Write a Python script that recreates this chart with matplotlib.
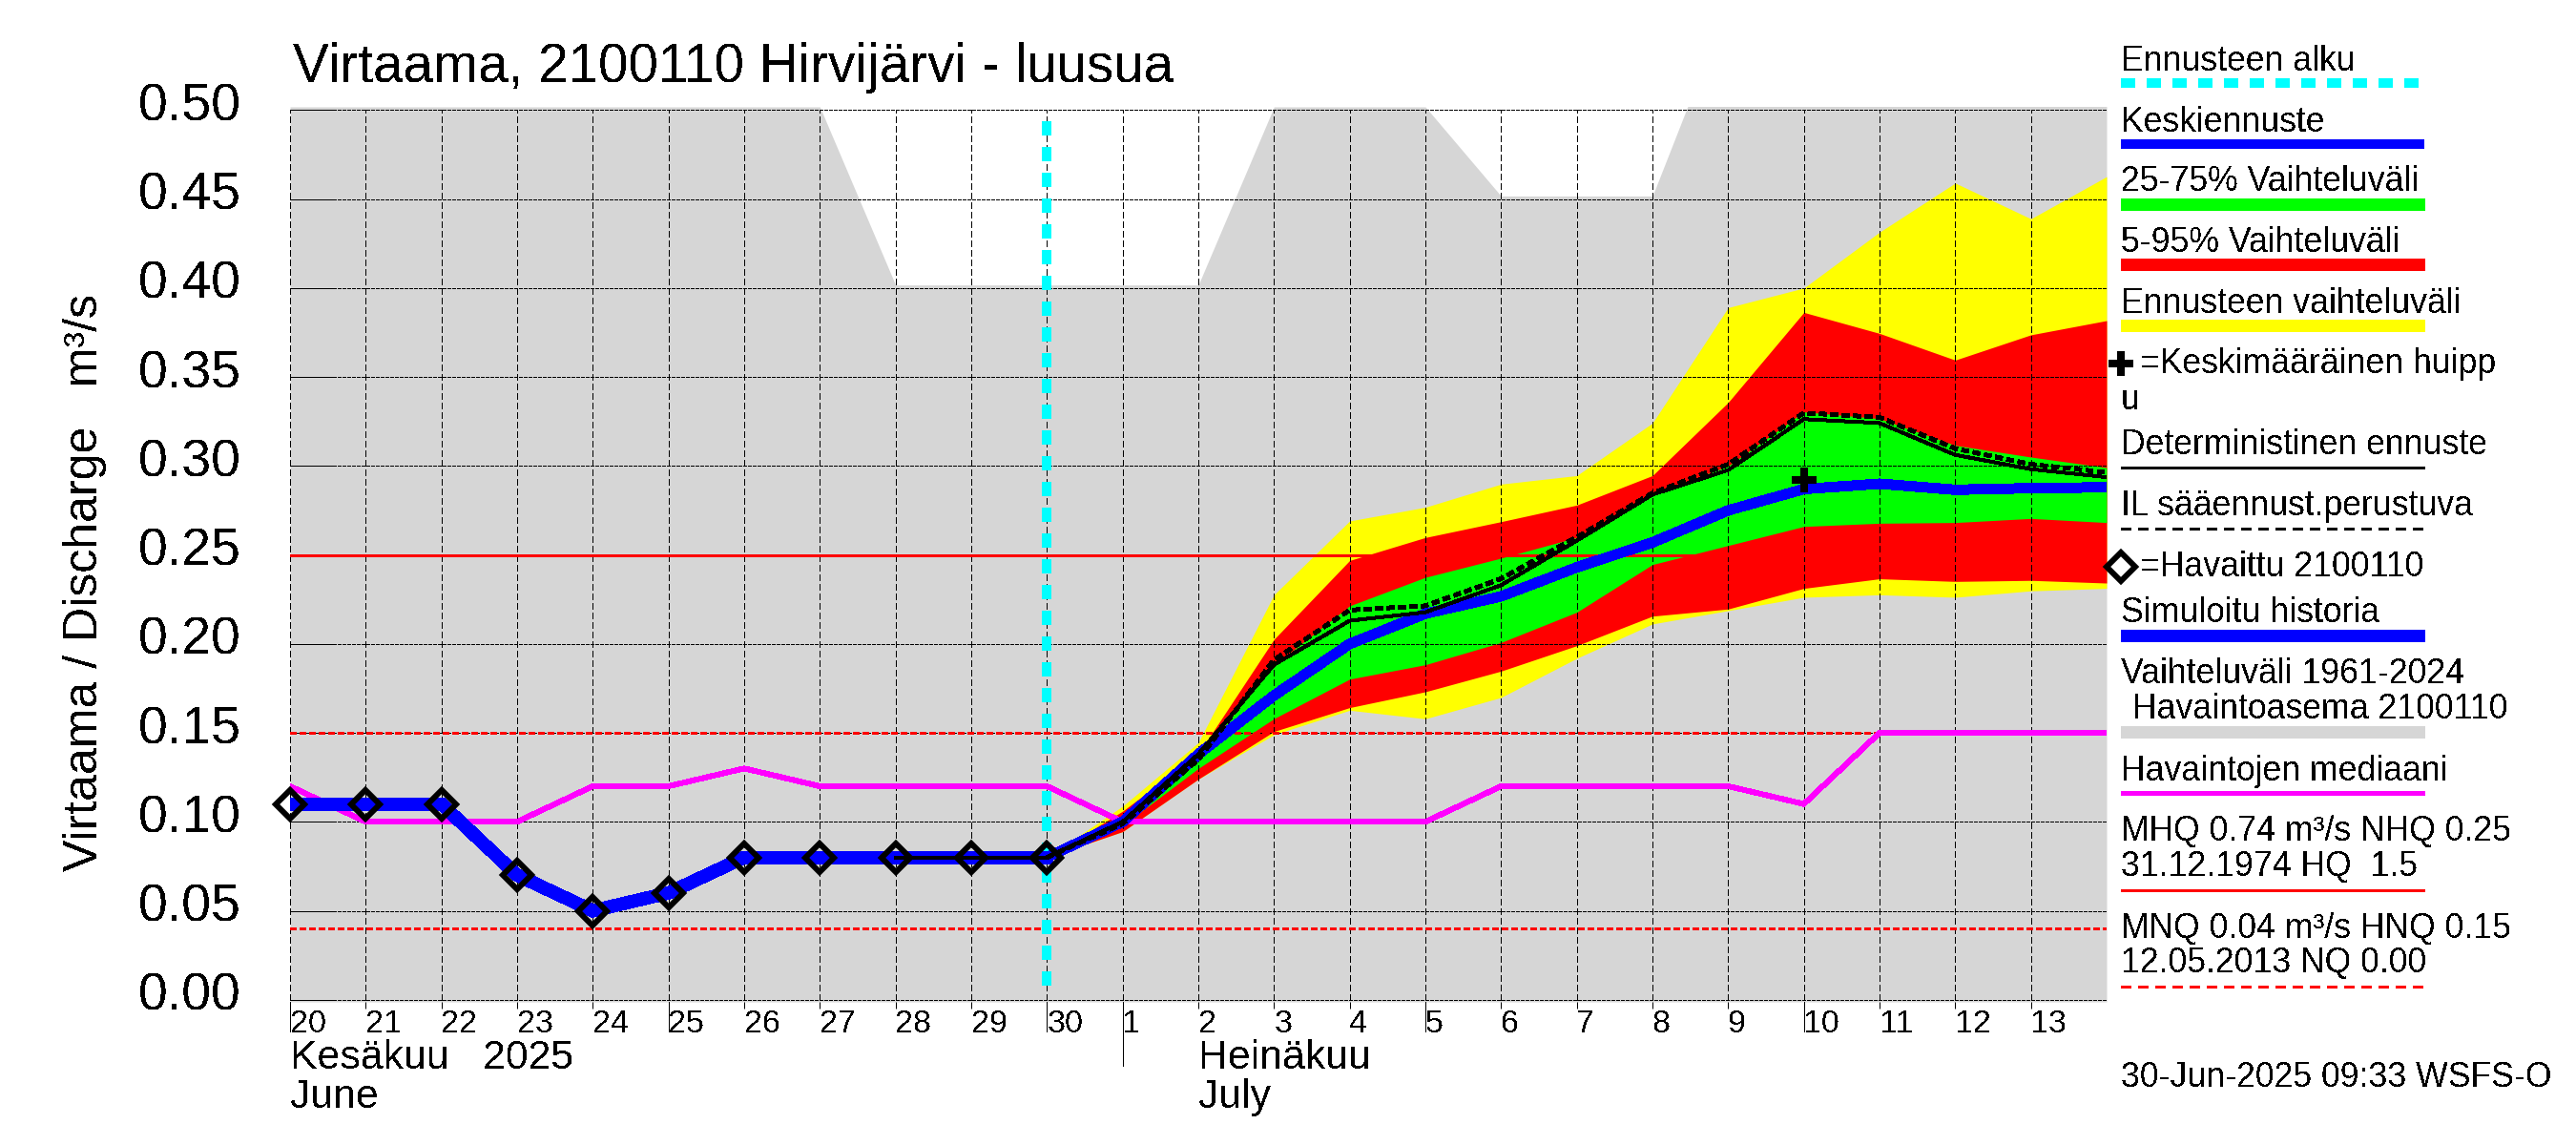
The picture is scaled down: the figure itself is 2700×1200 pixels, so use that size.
#!/usr/bin/env python3
# file: plot.py
# Virtaama forecast chart for 2100110 Hirvijarvi - luusua

import matplotlib
matplotlib.use('Agg')
import matplotlib.pyplot as plt
from matplotlib.transforms import ScaledTranslation

plt.rcParams['font.family'] = ['Liberation Sans', 'DejaVu Sans']
plt.rcParams['text.antialiased'] = False
plt.rcParams['lines.antialiased'] = False
plt.rcParams['patch.antialiased'] = False

# day index 0 = 20 June, 10 = 30 June, 11 = 1 July
all_days = list(range(25))
day_labels = ['20', '21', '22', '23', '24', '25', '26', '27', '28', '29', '30',
              '1', '2', '3', '4', '5', '6', '7', '8', '9', '10', '11', '12', '13']
y_ticks = [0.00, 0.05, 0.10, 0.15, 0.20, 0.25, 0.30, 0.35, 0.40, 0.45, 0.50]

# highest observed 1961-2024, runs off the top of the plot
gray_top = [0.5018, 0.5018, 0.5018, 0.5018, 0.5018, 0.5018, 0.5018, 0.5018,
            0.4017, 0.4017, 0.4017, 0.4017, 0.4017, 0.5018, 0.5018, 0.5018,
            0.4517, 0.4517, 0.4517, 0.56, 0.56, 0.56, 0.56, 0.56, 0.56]
median_q = [0.12, 0.10, 0.10, 0.10, 0.12, 0.12, 0.13, 0.12, 0.12, 0.12, 0.12,
            0.10, 0.10, 0.10, 0.10, 0.10, 0.12, 0.12, 0.12, 0.12, 0.11,
            0.15, 0.15, 0.15, 0.15]

hist_days = list(range(11))
observed = [0.11, 0.11, 0.11, 0.07, 0.05, 0.06, 0.08, 0.08, 0.08, 0.08, 0.08]

# forecast, days 10..24
fc_days = list(range(10, 25))
yellow_top = [0.08, 0.1088, 0.1445, 0.2276, 0.2691, 0.2768, 0.2898, 0.2946,
              0.3241, 0.389, 0.400, 0.4314, 0.459, 0.4389, 0.4626]
red_top = [0.08, 0.106, 0.1382, 0.2026, 0.2469, 0.2598, 0.2687, 0.278,
           0.2946, 0.3357, 0.3863, 0.3745, 0.3595, 0.3737, 0.3817]
green_top = [0.08, 0.102, 0.136, 0.188, 0.2214, 0.2374, 0.2482, 0.2598,
             0.284, 0.30, 0.3304, 0.3266, 0.3116, 0.305, 0.2991]
green_bot = [0.08, 0.098, 0.13, 0.158, 0.1802, 0.1883, 0.2008, 0.2178,
             0.2446, 0.2553, 0.266, 0.2678, 0.2682, 0.2705, 0.2682]
red_bot = [0.08, 0.0945, 0.124, 0.1508, 0.1642, 0.1731, 0.1847, 0.199,
           0.2156, 0.2196, 0.2312, 0.2366, 0.2351, 0.2357, 0.2342]
yellow_bot = [0.08, 0.0945, 0.124, 0.149, 0.1627, 0.1579, 0.1699, 0.1919,
              0.2112, 0.2187, 0.2262, 0.2276, 0.2262, 0.2298, 0.2312]
mean_fc = [0.08, 0.10, 0.138, 0.171, 0.20, 0.217, 0.2267, 0.243,
           0.257, 0.275, 0.287, 0.29, 0.2866, 0.2875, 0.288]
il_fc = [0.08, 0.099, 0.135, 0.191, 0.219, 0.2214, 0.2366, 0.26,
         0.2847, 0.3009, 0.3298, 0.3273, 0.3098, 0.3009, 0.2964]

# deterministic line starts two days earlier
det_days = list(range(8, 25))
det_fc = [0.08, 0.08, 0.08, 0.10, 0.138, 0.1883, 0.213, 0.2178, 0.233, 0.258,
          0.2839, 0.2977, 0.3263, 0.3241, 0.3062, 0.2982, 0.2937]

forecast_start = 10
peak_day = 20
peak_q = 0.292
nhq = 0.25
hnq = 0.15
mnq = 0.04

PX = 0.72  # one pixel in points at dpi 100

fig = plt.figure(figsize=(27, 12), dpi=100)
ax = fig.add_axes([304 / 2700, 1 - 1050 / 1200, 1904 / 2700, 938 / 1200])
ax.set_xlim(0, 24)
y_bottom, y_upper = -0.0012, 0.5018
ax.set_ylim(y_bottom, y_upper)
for s in ax.spines.values():
    s.set_visible(False)

# fills below the grid, lines above it
ax.set_axisbelow(False)
ax.fill_between(all_days, y_bottom, gray_top, color='#d6d6d6', lw=0, zorder=1)
ax.fill_between(fc_days, yellow_bot, yellow_top, color='#ffff00', lw=0, zorder=1.1)
ax.fill_between(fc_days, red_bot, red_top, color='#ff0000', lw=0, zorder=1.2)
ax.fill_between(fc_days, green_bot, green_top, color='#00ff00', lw=0, zorder=1.3)

ax.yaxis.grid(True, color='k', lw=PX, ls=(0, (4, 2)))
ax.vlines(all_days, 0, 0.5, colors='k', lw=PX, linestyles=[(0, (6, 3))], zorder=2.5)

ax.axhline(nhq, color='#ff0000', lw=3 * PX, zorder=3)
ax.axhline(hnq, color='#ff0000', lw=3 * PX, ls=(0, (2, 1)), zorder=3)
ax.axhline(mnq, color='#ff0000', lw=3 * PX, ls=(0, (2, 1)), zorder=3)
ax.plot(all_days, median_q, color='#ff00ff', lw=5 * PX, zorder=4)
ax.plot([forecast_start, forecast_start], [0.4937, 0.0026], color='#00ffff',
        lw=10 * PX, ls=(0, (1.5, 1.3)), zorder=4.5)
ax.plot(hist_days, observed, color='#0000ff', lw=13 * PX, zorder=5,
        solid_joinstyle='miter')
ax.plot(fc_days, mean_fc, color='#0000ff', lw=10 * PX, zorder=5)
ax.plot(det_days, det_fc, color='k', lw=3 * PX, zorder=6)
ax.plot(fc_days, il_fc, color='k', lw=3.5 * PX, ls=(0, (2, 1.4)), zorder=6)
ax.plot([peak_day], [peak_q], marker='+', ms=27 * PX, mew=8 * PX, color='k',
        ls='none', zorder=7)
ax.plot(hist_days, observed, marker='D', ms=21 * PX, mew=6 * PX, mfc='none',
        mec='k', ls='none', zorder=7, clip_on=False)

ax.set_xticks(all_days[:-1])
ax.set_xticklabels(day_labels, ha='left')
ax.tick_params(axis='x', direction='out', length=7 * PX, width=PX, pad=1,
               labelsize=24.5)
ax.set_yticks(y_ticks)
ax.set_yticklabels(['%.2f' % v for v in y_ticks])
ax.tick_params(axis='y', direction='in', length=47 * PX, width=PX, pad=51 * PX,
               labelsize=40)
up = ScaledTranslation(0, 9 / 100, fig.dpi_scale_trans)
for lab in ax.get_yticklabels():
    lab.set_transform(lab.get_transform() + up)

ax.set_title('Virtaama, 2100110 Hirvijärvi - luusua', loc='left', x=0.0015,
             pad=26 * PX, fontsize=40.8)

# overlay in pixel coordinates for the side legend and month labels
ov = fig.add_axes([0, 0, 1, 1], zorder=10)
ov.set_xlim(0, 2700)
ov.set_ylim(1200, 0)
ov.axis('off')

ov.text(102, 913, 'Virtaama / Discharge   m³/s', rotation=90, ha='left',
        va='baseline', rotation_mode='anchor', fontsize=36)

# long ticks on every fifth date and the month change
for x, end in [(304, 1081), (701, 1081), (1097, 1081), (1177, 1117), (1494, 1081),
               (1891, 1081)]:
    ov.plot([x, x], [1050, end], color='k', lw=PX)
ov.text(304, 1120, 'Kesäkuu   2025', fontsize=30.8)
ov.text(304, 1161, 'June', fontsize=30.8)
ov.text(1256, 1120, 'Heinäkuu', fontsize=30.8)
ov.text(1256, 1161, 'July', fontsize=30.8)

LEG_X0, LEG_X1 = 2223, 2541
FS = 25.7


def key_line(y, color, thick, ls='-'):
    ov.plot([LEG_X0, LEG_X1], [y, y], color=color, lw=thick * PX, ls=ls,
            solid_capstyle='butt', dash_capstyle='butt')


ov.text(LEG_X0, 74, 'Ennusteen alku', fontsize=FS)
key_line(87, '#00ffff', 10, (0, (1.5, 1.3)))
ov.text(LEG_X0, 138, 'Keskiennuste', fontsize=FS)
key_line(151, '#0000ff', 10)
ov.text(LEG_X0, 200, '25-75% Vaihteluväli', fontsize=FS)
key_line(214, '#00ff00', 13)
ov.text(LEG_X0, 264, '5-95% Vaihteluväli', fontsize=FS)
key_line(277, '#ff0000', 13)
ov.text(LEG_X0, 328, 'Ennusteen vaihteluväli', fontsize=FS)
key_line(341, '#ffff00', 13)
ov.plot([LEG_X0], [380.5], marker='+', ms=27 * PX, mew=8 * PX, color='k', ls='none')
ov.text(2243, 391, '=Keskimääräinen huipp', fontsize=FS)
ov.text(LEG_X0, 429, 'u', fontsize=FS)
ov.text(LEG_X0, 476.5, 'Deterministinen ennuste', fontsize=FS)
key_line(490, 'k', 3)
ov.text(LEG_X0, 540, 'IL sääennust.perustuva', fontsize=FS)
key_line(554, 'k', 3, (0, (3.5, 2.5)))
ov.plot([LEG_X0], [594], marker='D', ms=21 * PX, mew=6 * PX, mfc='none', mec='k',
        ls='none')
ov.text(2243, 604, '=Havaittu 2100110', fontsize=FS)
ov.text(LEG_X0, 652.5, 'Simuloitu historia', fontsize=FS)
key_line(666, '#0000ff', 13)
ov.text(LEG_X0, 716, 'Vaihteluväli 1961-2024', fontsize=FS)
ov.text(2235, 753, 'Havaintoasema 2100110', fontsize=FS)
key_line(767, '#d6d6d6', 13)
ov.text(LEG_X0, 818, 'Havaintojen mediaani', fontsize=FS)
key_line(830.5, '#ff00ff', 5)
ov.text(LEG_X0, 881.5, 'MHQ 0.74 m³/s NHQ 0.25', fontsize=FS)
ov.text(LEG_X0, 918, '31.12.1974 HQ  1.5', fontsize=FS)
key_line(932.5, '#ff0000', 3)
ov.text(LEG_X0, 982.5, 'MNQ 0.04 m³/s HNQ 0.15', fontsize=FS)
ov.text(LEG_X0, 1019.5, '12.05.2013 NQ 0.00', fontsize=FS)
key_line(1033.5, '#ff0000', 3, (0, (3.5, 2.5)))
ov.text(LEG_X0, 1139, '30-Jun-2025 09:33 WSFS-O', fontsize=FS)

fig.savefig('out.png', dpi=100)
